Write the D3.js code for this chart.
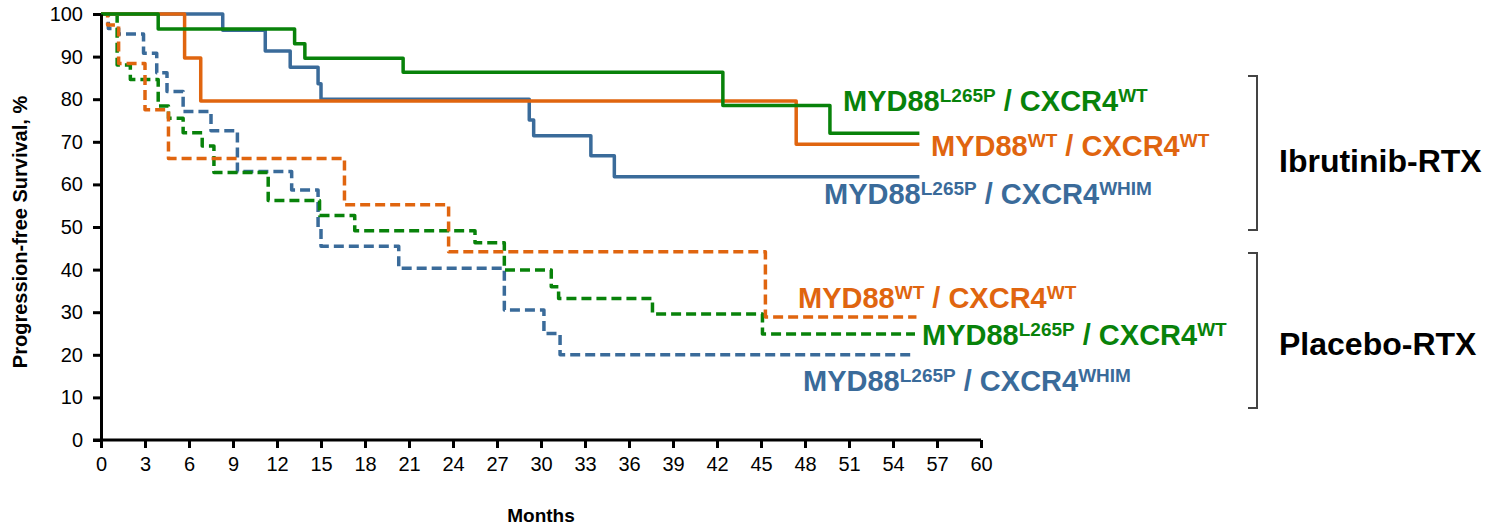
<!DOCTYPE html>
<html>
<head>
<meta charset="utf-8">
<script src="https://cdn.jsdelivr.net/npm/d3@7"></script>
<style>
  html, body { margin: 0; padding: 0; background: #fff; }
  svg { display: block; font-family: "Liberation Sans", Arial, sans-serif; }
</style>
</head>
<body>
<svg id="chart" width="1492" height="525"></svg>
<script>
// Kaplan–Meier progression-free survival by genotype, ibrutinib-RTX vs placebo-RTX

// Axis ticks
const monthTicks = d3.range(0, 61, 3);
const pfsTicks = d3.range(0, 101, 10);

// Ibrutinib-RTX arms (months, survival %)
const ibrL265pWtMonths = [0, 3.9, 13.2, 13.9, 20.6, 42.4, 49.7, 55.8];
const ibrL265pWtPfs    = [100, 96.5, 93.0, 89.6, 86.3, 78.5, 72.0, 72.0];

const ibrWtWtMonths = [0, 5.7, 6.8, 47.4, 55.8];
const ibrWtWtPfs    = [100, 89.7, 79.6, 69.4, 69.4];

const ibrL265pWhimMonths = [0, 8.3, 11.2, 12.9, 14.8, 15.0, 29.2, 29.5, 33.4, 35.0, 55.8];
const ibrL265pWhimPfs    = [100, 96.2, 91.3, 87.5, 83.6, 80.0, 75.1, 71.4, 66.7, 61.8, 61.8];

// Placebo-RTX arms (months, survival %)
const plaWtWtMonths = [0, 0.45, 1.2, 3.0, 4.6, 16.6, 23.7, 45.3, 55.6];
const plaWtWtPfs    = [100, 97.4, 88.4, 77.5, 66.1, 55.2, 44.2, 28.9, 28.9];

const plaL265pWtMonths = [0, 1.1, 2.0, 3.9, 4.6, 5.6, 6.9, 7.7, 11.4, 14.9, 17.3, 25.5, 27.5, 30.7, 31.2, 37.6, 45.1, 55.5];
const plaL265pWtPfs    = [100, 88.0, 84.6, 78.4, 75.5, 72.1, 69.0, 62.8, 56.2, 52.7, 49.1, 46.3, 39.9, 36.0, 33.2, 29.6, 24.9, 24.9];

const plaL265pWhimMonths = [0, 0.5, 1.2, 2.9, 3.8, 4.5, 5.6, 7.5, 9.3, 13.0, 14.8, 15.0, 20.3, 27.5, 30.2, 31.3, 55.5];
const plaL265pWhimPfs    = [100, 96.6, 95.3, 90.8, 86.2, 81.8, 77.1, 72.6, 63.0, 58.7, 49.8, 45.5, 40.3, 30.5, 25.0, 20.0, 20.0];

// Label text pieces: [main, superscript, main, superscript]
const labelL265pWt   = ["MYD88", "L265P", " / CXCR4", "WT"];
const labelWtWt      = ["MYD88", "WT", " / CXCR4", "WT"];
const labelL265pWhim = ["MYD88", "L265P", " / CXCR4", "WHIM"];
const groupNames = ["Ibrutinib-RTX", "Placebo-RTX"];

const GREEN = "#08820a", ORANGE = "#e0650f", BLUE = "#3a6b9a";

const zip = (t, s) => t.map((m, i) => ({ m, s: s[i] }));

const series = [
  { pts: zip(plaL265pWhimMonths, plaL265pWhimPfs), color: BLUE,   dashed: true },
  { pts: zip(plaL265pWtMonths,   plaL265pWtPfs),   color: GREEN,  dashed: true },
  { pts: zip(plaWtWtMonths,      plaWtWtPfs),      color: ORANGE, dashed: true },
  { pts: zip(ibrL265pWhimMonths, ibrL265pWhimPfs), color: BLUE,   dashed: false },
  { pts: zip(ibrWtWtMonths,      ibrWtWtPfs),      color: ORANGE, dashed: false },
  { pts: zip(ibrL265pWtMonths,   ibrL265pWtPfs),   color: GREEN,  dashed: false }
];

const svg = d3.select("#chart");
const x = d3.scaleLinear().domain([0, 60]).range([101, 981]);
const y = d3.scaleLinear().domain([0, 100]).range([440, 14]);

// Survival curves
const line = d3.line().x(d => x(d.m)).y(d => y(d.s)).curve(d3.curveStepAfter);
svg.append("g").selectAll("path").data(series).join("path")
  .attr("d", d => line(d.pts))
  .attr("fill", "none")
  .attr("stroke", d => d.color)
  .attr("stroke-width", 3.5)
  .attr("stroke-dasharray", d => d.dashed ? "10,5" : null)
  .attr("stroke-linejoin", "round");

// Axes
const yAxis = svg.append("g").attr("transform", `translate(${x(0)},0)`)
  .call(d3.axisLeft(y).tickValues(pfsTicks).tickSize(8).tickSizeOuter(0).tickPadding(10));
const xAxis = svg.append("g").attr("transform", `translate(0,${y(0)})`)
  .call(d3.axisBottom(x).tickValues(monthTicks).tickSize(8).tickSizeOuter(0).tickPadding(9));
[yAxis, xAxis].forEach(g => {
  g.select(".domain").attr("stroke", "#000").attr("stroke-width", 3);
  g.selectAll(".tick line").attr("stroke", "#000").attr("stroke-width", 3);
  g.selectAll(".tick text").attr("fill", "#000").style("font-size", "20px")
    .style("font-family", "'Liberation Sans', Arial, sans-serif");
});
// extend x axis line to meet y ticks
xAxis.select(".domain").attr("d", `M${x(0) - 8},0H${x(60)}`);

// Axis titles
svg.append("text")
  .attr("transform", `translate(27,232) rotate(-90)`)
  .attr("text-anchor", "middle")
  .style("font-size", "20px").style("font-weight", "bold")
  .text("Progression-free Survival, %");
svg.append("text")
  .attr("x", 541).attr("y", 522)
  .attr("text-anchor", "middle")
  .style("font-size", "19px").style("font-weight", "bold")
  .text("Months");

// Curve labels with superscripts
function genotypeLabel(parts, px, py, color) {
  const t = svg.append("text").attr("x", px).attr("y", py)
    .attr("fill", color).style("font-weight", "bold").style("font-size", "29px");
  parts.forEach((p, i) => {
    const sup = i % 2 === 1;
    t.append("tspan")
      .attr("dy", sup ? -9 : (i === 0 ? 0 : 9))
      .style("font-size", sup ? "19px" : "29px")
      .text(p);
  });
}
genotypeLabel(labelL265pWt,   843, 111, GREEN);
genotypeLabel(labelWtWt,      931, 156, ORANGE);
genotypeLabel(labelL265pWhim, 824, 204, BLUE);
genotypeLabel(labelWtWt,      798, 308, ORANGE);
genotypeLabel(labelL265pWt,   922, 345, GREEN);
genotypeLabel(labelL265pWhim, 803, 391, BLUE);

// Group brackets and names
const brackets = [[76, 230], [253, 408]];
svg.append("g").selectAll("path").data(brackets).join("path")
  .attr("d", d => `M1248,${d[0]}H1257V${d[1]}H1248`)
  .attr("fill", "none").attr("stroke", "#444").attr("stroke-width", 2);
svg.append("g").selectAll("text").data(groupNames).join("text")
  .attr("x", 1279).attr("y", (d, i) => [172, 355][i])
  .style("font-size", "32px").style("font-weight", "bold")
  .text(d => d);
</script>
</body>
</html>
